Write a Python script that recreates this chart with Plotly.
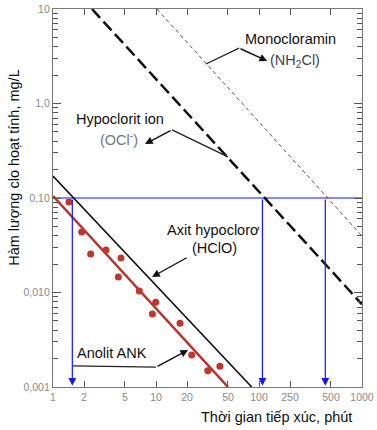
import math
import plotly.graph_objects as go

# ---------------- data ----------------
# Anolit ANK measured points (time, min ; concentration, mg/L)
anolit_time = [1.43, 1.90, 2.32, 3.27, 4.57, 4.31, 6.88, 9.93, 9.22, 17.1, 22.2, 31.8, 41.7]
anolit_conc = [0.0907, 0.0436, 0.0255, 0.0282, 0.0232, 0.0146, 0.0104, 0.00787, 0.00592, 0.00472, 0.00218, 0.00149, 0.00166]

# Fitted / reference lines (end points)
anolit_fit_time = [1, 50]
anolit_fit_conc = [0.105, 0.001]
hclo_time = [1, 85]
hclo_conc = [0.171, 0.001]
ocl_time = [2.39, 1000]
ocl_conc = [10, 0.0075]
nh2cl_time = [10.2, 1000]
nh2cl_conc = [10, 0.0396]

# Threshold 0.10 mg/L and the contact times where each line crosses it
threshold = 0.10
threshold_time = [1, 1000]
crossing_times = [1.54, 108, 440]

# Tick labels
x_tickvals = [1, 2, 5, 10, 20, 50, 100, 200, 500, 1000]
x_ticktext = ["1", "2", "5", "10", "20", "50", "100", "250", "500", "1000"]
y_tickvals = [0.001, 0.01, 0.1, 1, 10]
y_ticktext = ["0,001", "0,010", "0,10", "1,0", "10"]
y_minor = [m * 10 ** e for e in range(-3, 1) for m in range(2, 10)]

# ---------------- figure ----------------
FONT = "Liberation Sans, Arial, sans-serif"
BLUE = "#1414ff"
LABEL_SIZE = 14.5
fig = go.Figure()

fig.add_trace(go.Scatter(x=threshold_time, y=[threshold, threshold], mode="lines",
                         line=dict(color=BLUE, width=1), hoverinfo="skip"))
fig.add_trace(go.Scatter(x=nh2cl_time, y=nh2cl_conc, mode="lines",
                         line=dict(color="#555555", width=1, dash="4px,3px")))
fig.add_trace(go.Scatter(x=ocl_time, y=ocl_conc, mode="lines",
                         line=dict(color="#111111", width=2.5, dash="12px,5px")))
fig.add_trace(go.Scatter(x=hclo_time, y=hclo_conc, mode="lines",
                         line=dict(color="#111111", width=1.6)))
fig.add_trace(go.Scatter(x=anolit_fit_time, y=anolit_fit_conc, mode="lines",
                         line=dict(color="#b8302a", width=2.5)))
fig.add_trace(go.Scatter(x=anolit_time, y=anolit_conc, mode="markers",
                         marker=dict(color="#c2352e", size=7)))

# connector polylines for labels (data coordinates)
connectors = [
    ([30.6, 64], [2.62, 3.86]),          # Monocloramin
    ([50, 14.3], [0.272, 0.525]),        # Hypoclorit ion
    ([1.56, 10], [0.00167, 0.00162]),    # Anolit ANK
]
for cx, cy in connectors:
    fig.add_trace(go.Scatter(x=cx, y=cy, mode="lines",
                             line=dict(color="#222222", width=1.3), hoverinfo="skip"))

L = math.log10
annotations = []
# arrow heads of label connectors: (tail x, tail y, head x, head y)
label_arrows = [
    (64, 3.86, 120, 2.82),
    (14.3, 0.525, 7.82, 0.373),
    (20.5, 0.0238, 9.15, 0.0146),
    (10, 0.00162, 20.5, 0.00247),
]
for tx, ty, hx, hy in label_arrows:
    annotations.append(dict(x=L(hx), y=L(hy), ax=L(tx), ay=L(ty), xref="x", yref="y",
                            axref="x", ayref="y", text="", showarrow=True,
                            arrowhead=2, arrowsize=1.1, arrowwidth=1.4, arrowcolor="#111111"))
# blue arrows down from the threshold
for ct in crossing_times:
    annotations.append(dict(x=L(ct), y=L(0.00103), ax=L(ct), ay=L(threshold), xref="x", yref="y",
                            axref="x", ayref="y", text="", showarrow=True,
                            arrowhead=2, arrowsize=1.3, arrowwidth=1.2, arrowcolor=BLUE))

# text labels
labels = [
    ("Monocloramin", 200, 4.82, "center", "#111111"),
    ("(NH<sub>2</sub>Cl)", 122, 2.82, "left", "#444444"),
    ("Hypoclorit ion", 4.47, 0.686, "center", "#111111"),
    ("(OCl<sup>-</sup>)", 4.42, 0.421, "center", "#777777"),
    ("Axit hypoclorơ", 36.2, 0.0458, "center", "#111111"),
    ("(HClO)", 36.6, 0.0296, "center", "#111111"),
    ("Anolit ANK", 3.78, 0.00229, "center", "#111111"),
]
for txt, lx, ly, anc, col in labels:
    annotations.append(dict(x=L(lx), y=L(ly), xref="x", yref="y", text=txt, showarrow=False,
                            xanchor=anc, yanchor="middle",
                            font=dict(family=FONT, size=LABEL_SIZE, color=col)))

# axis titles
annotations.append(dict(x=-0.126, y=0.58, xref="paper", yref="paper", xanchor="center",
                        yanchor="middle",
                        text="Hàm lượng clo hoạt tính, mg/L", textangle=-90, showarrow=False,
                        font=dict(family=FONT, size=LABEL_SIZE, color="#111111")))
annotations.append(dict(x=0.722, y=-0.079, xref="paper", yref="paper", xanchor="center",
                        yanchor="middle",
                        text="Thời gian tiếp xúc, phút", showarrow=False,
                        font=dict(family=FONT, size=LABEL_SIZE, color="#111111")))

axis_common = dict(showline=True, linecolor="#777777", linewidth=1.2, mirror="ticks",
                   ticks="inside", tickcolor="#555555", showgrid=False, zeroline=False,
                   automargin=False, ticklabeloverflow="allow",
                   tickfont=dict(family=FONT, size=10.5, color="#8a8a8a"))

fig.update_layout(
    width=377, height=430,
    margin=dict(l=53, r=15, t=9, b=43),
    plot_bgcolor="white", paper_bgcolor="white",
    showlegend=False,
    annotations=annotations,
    xaxis=dict(type="log", range=[0, 3], tickmode="array", tickvals=x_tickvals,
               ticktext=x_ticktext, ticklen=6, tickwidth=1, **axis_common),
    yaxis=dict(type="log", range=[-3, 1], tickmode="array", tickvals=y_tickvals,
               ticktext=y_ticktext, ticklen=8, tickwidth=1.2,
               minor=dict(tickmode="array", tickvals=y_minor, ticks="inside", ticklen=5,
                          tickcolor="#555555", showgrid=False),
               **axis_common),
)

# remove the default 8px page margin so the figure fills the window exactly
fig.write_html("out.html", config={"displayModeBar": False},
               post_script="document.body.style.margin='0';")
